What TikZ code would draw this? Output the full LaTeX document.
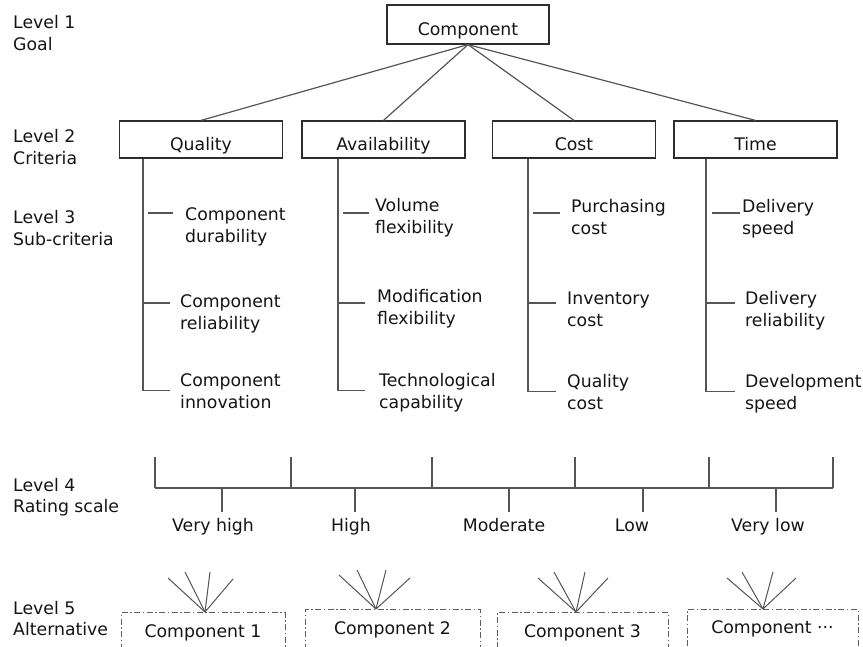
\documentclass[tikz,border=0pt]{standalone}
\usepackage{fontspec}
\setmainfont{DejaVu Sans}
\definecolor{boxc}{RGB}{45,45,45}
\definecolor{linec}{RGB}{85,85,85}
\definecolor{altc}{RGB}{95,95,95}
\definecolor{txtc}{RGB}{20,20,20}
\begin{document}
\begin{tikzpicture}[x=1pt,y=-1pt,
  every node/.style={font=\fontsize{17.3}{21.5}\selectfont, text=txtc},
  lbl/.style={anchor=base west, inner sep=0pt, align=left, yshift=-21.5pt},
  crit/.style={draw=boxc, line width=1.2pt, inner xsep=0pt, inner ysep=0pt,
    minimum width=163pt, text height=30pt, text depth=7pt},
  ln/.style={draw=linec, line width=1.2pt},
  alt/.style={draw=altc, line width=1pt, dash pattern=on 6pt off 2.5pt on 1.5pt off 2.5pt,
    anchor=north, inner xsep=0pt, inner ysep=0pt, text height=25pt, text depth=16pt},
  scl/.style={anchor=base, inner sep=0pt}
]
\path[use as bounding box] (0,0) rectangle (863,647);
\clip (0,0) rectangle (863,647);

% level labels
\node[lbl] (l1) at (13,29) {Level 1\\Goal};
\node[lbl] (l2) at (13,143) {Level 2\\Criteria};
\node[lbl] (l3) at (13,224) {Level 3\\Sub-criteria};
\node[lbl] (l4) at (13,491) {Level 4\\Rating scale};
\node[lbl] (l5) at (13,614) {Level 5\\Alternative};

% goal and criteria
\node[crit, minimum width=162pt, text height=31pt, text depth=8pt] (goal) at (468,24.5) {Component};
\node[crit] (quality) at (201,139.5) {Quality};
\node[crit] (avail) at (383.5,139.5) {Availability};
\node[crit] (cost) at (574,139.5) {Cost};
\node[crit] (time) at (755.5,139.5) {Time};

\foreach \c in {quality,avail,cost,time}{
  \draw[ln] (goal.south) -- (\c.north);
}

% sub-criteria
\node[lbl] (q1) at (185,221) {Component\\durability};
\node[lbl] (q2) at (180,308) {Component\\reliability};
\node[lbl] (q3) at (180,387) {Component\\innovation};
\node[lbl] (a1) at (375,212) {Volume\\flexibility};
\node[lbl] (a2) at (377,303) {Modification\\flexibility};
\node[lbl] (a3) at (379,387) {Technological\\capability};
\node[lbl] (c1) at (571,213) {Purchasing\\cost};
\node[lbl] (c2) at (567,305) {Inventory\\cost};
\node[lbl] (c3) at (567,388) {Quality\\cost};
\node[lbl] (t1) at (742,213) {Delivery\\speed};
\node[lbl] (t2) at (745,305) {Delivery\\reliability};
\node[lbl] (t3) at (745,388) {Development\\speed};

\draw[ln] ([xshift=-58pt]quality.south) -- ++(0,232) -- ++(27,0);
\draw[ln] (148,213) -- (173,213);
\draw[ln] (143,303) -- (170,303);

\draw[ln] ([xshift=-45.5pt]avail.south) -- ++(0,232) -- ++(27,0);
\draw[ln] (343,213) -- (369,213);
\draw[ln] (338,303) -- (365,303);

\draw[ln] ([xshift=-46pt]cost.south) -- ++(0,233) -- ++(28,0);
\draw[ln] (533,213) -- (560,213);
\draw[ln] (528,303) -- (556,303);

\draw[ln] ([xshift=-49.5pt]time.south) -- ++(0,233) -- ++(29,0);
\draw[ln] (712,213) -- (740,213);
\draw[ln] (706,303) -- (735,303);

% rating scale
\draw[ln] (155,488) -- (833,488);
\foreach \x in {155,291,432,575,709,833}{
  \draw[ln] (\x,457) -- (\x,488);
}
\foreach \x in {222,355,509,643,776}{
  \draw[ln] (\x,488) -- (\x,512);
}
\node[scl] (vh) at (213,531) {Very high};
\node[scl] (hi) at (351,531) {High};
\node[scl] (mo) at (504,531) {Moderate};
\node[scl] (lo) at (632,531) {Low};
\node[scl] (vl) at (768,531) {Very low};

% alternatives
\node[alt, minimum width=164pt] (k1) at (203,612) {Component 1};
\node[alt, minimum width=175pt, text height=25pt] (k2) at (392.5,609) {Component 2};
\node[alt, minimum width=171pt] (k3) at (582.5,612) {Component 3};
\node[alt, minimum width=171pt, text height=24pt] (k4) at (772.5,609) {Component ···};

\coordinate (f11) at (168,578); \coordinate (f12) at (185,572);
\coordinate (f13) at (210,572); \coordinate (f14) at (233,579);
\coordinate (f21) at (339,575); \coordinate (f22) at (357,570);
\coordinate (f23) at (386,570); \coordinate (f24) at (410,578);
\coordinate (f31) at (538,578); \coordinate (f32) at (554,572);
\coordinate (f33) at (585,572); \coordinate (f34) at (608,578);
\coordinate (f41) at (727,578); \coordinate (f42) at (742,572);
\coordinate (f43) at (773,572); \coordinate (f44) at (796,578);

\foreach \i in {1,2,3,4}{
  \draw[ln, line width=1pt] ([xshift=2pt]k1.north) -- (f1\i);
  \draw[ln, line width=1pt] ([xshift=-16.5pt]k2.north) -- (f2\i);
  \draw[ln, line width=1pt] ([xshift=-6.5pt]k3.north) -- (f3\i);
  \draw[ln, line width=1pt] ([xshift=-9.5pt]k4.north) -- (f4\i);
}
\end{tikzpicture}
\end{document}
